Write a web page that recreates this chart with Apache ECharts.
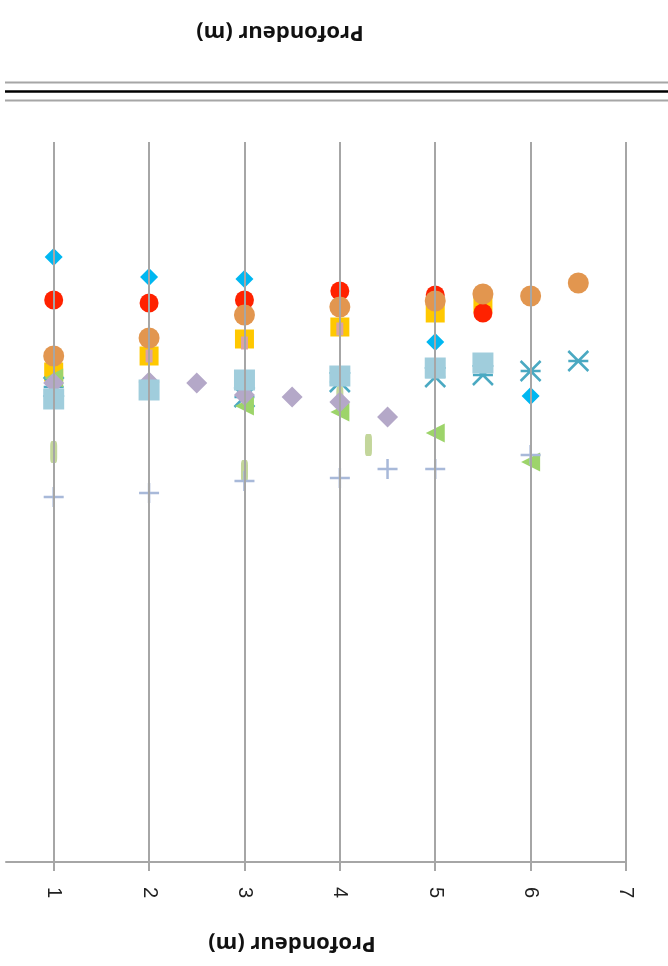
<!DOCTYPE html>
<html>
<head>
<meta charset="utf-8">
<script src="https://cdn.jsdelivr.net/npm/echarts@6/dist/echarts.min.js"></script>
<style>html,body{margin:0;padding:0;background:#fff;}#c{width:668px;height:966px;}</style>
</head>
<body>
<div id="c"></div>
<script>
// x-axis ticks (Profondeur, m)
var tickValues = [1, 2, 3, 4, 5, 6, 7];
// Series: [x, y] pairs (y in arbitrary units)
var cyanDiamond = [[1, 60.5], [2, 58.5], [3, 58.3], [5, 52.0], [6, 46.6]];
var yellowSquare = [[1, 49.0], [2, 50.6], [3, 52.3], [4, 53.5], [5, 54.9], [5.5, 55.9]];
var pinkBar = [[2, 50.6], [3, 51.9], [4, 53.3]];
var redCircle = [[1, 56.2], [2, 55.9], [3, 56.2], [4, 57.1], [5, 56.7], [5.5, 54.9]];
var orangeCircle = [[1, 50.6], [2, 52.4], [3, 54.7], [4, 55.5], [5, 56.1], [5.5, 56.8], [6, 56.6], [6.5, 57.9]];
var tealStar = [[1, 47.5], [3, 46.5], [4, 48.0], [5, 48.5], [5.5, 48.7], [6, 49.1], [6.5, 50.1]];
var lightGreenBar = [[1, 41.0], [3, 39.1], [4, 46.5], [4.3, 41.7]];
var greenTriangle = [[1, 48.4], [3, 45.6], [4, 45.0], [5, 42.9], [6, 40.0]];
var lavenderDiamond = [[1, 47.9], [2, 48.0], [2.5, 47.9], [3, 46.7], [3.5, 46.5], [4, 46.0], [4.5, 44.5]];
var lightBlueSquare = [[1, 46.3], [2, 47.2], [3, 48.2], [4, 48.6], [5, 49.4], [5.5, 49.9]];
var plusMark = [[1, 36.5], [2, 36.9], [3, 38.1], [4, 38.4], [4.5, 39.3], [5, 39.3], [6, 40.7]];

var axisTitle = 'Profondeur (m)';

var chart = echarts.init(document.getElementById('c'), null, {renderer: 'canvas'});

function sc(name, data, symbol, size, color, extra) {
  var s = {
    name: name, type: 'scatter', data: data, symbol: symbol, symbolSize: size,
    itemStyle: {color: color, opacity: 1}, silent: true, animation: false
  };
  if (extra) { for (var k in extra) s[k] = extra[k]; }
  return s;
}

var starPath = 'path://M0,0L20,20M20,0L0,20M0,10L20,10';
var plusPath = 'path://M8.75,0h2.5v8.75h8.75v2.5h-8.75v8.75h-2.5v-8.75h-8.75v-2.5h8.75z';

var option = {
  animation: false,
  backgroundColor: '#ffffff',
  grid: {left: 6, right: 42, top: 142, bottom: 104, containLabel: false},
  xAxis: {
    type: 'value', min: 0.5, max: 7,
    axisLine: {show: true, lineStyle: {color: '#a6a6a6', width: 2}},
    axisTick: {show: true, customValues: tickValues, length: 9, lineStyle: {color: '#a6a6a6', width: 2}},
    axisLabel: {show: true, customValues: tickValues, rotate: -90, margin: 25,
      fontFamily: 'Liberation Sans', fontSize: 20, color: '#222'},
    splitLine: {show: false}
  },
  yAxis: {type: 'value', min: 0, max: 72, show: false, splitLine: {show: false}},
  graphic: [
    {type: 'line', shape: {x1: 5, y1: 82.5, x2: 668, y2: 82.5}, style: {stroke: '#a6a6a6', lineWidth: 2}},
    {type: 'line', shape: {x1: 5, y1: 91.5, x2: 668, y2: 91.5}, style: {stroke: '#000', lineWidth: 2.5}},
    {type: 'line', shape: {x1: 5, y1: 100.5, x2: 668, y2: 100.5}, style: {stroke: '#a6a6a6', lineWidth: 2}},
    {type: 'text', x: 280, y: 32, rotation: Math.PI,
      style: {text: axisTitle, font: 'bold 22px "Open Sans"', fill: '#111', textAlign: 'center', textVerticalAlign: 'middle'}},
    {type: 'text', x: 292, y: 943, rotation: Math.PI,
      style: {text: axisTitle, font: 'bold 22px "Open Sans"', fill: '#111', textAlign: 'center', textVerticalAlign: 'middle'}}
  ],
  series: [
    {
      type: 'scatter', data: [], silent: true,
      markLine: {
        silent: true, symbol: 'none', animation: false,
        label: {show: false},
        lineStyle: {color: '#a6a6a6', width: 2, type: 'solid'},
        data: tickValues.map(function (v) { return {xAxis: v}; })
      }
    },
    sc('cyan', cyanDiamond, 'diamond', 18, '#00b7f1'),
    sc('yellow', yellowSquare, 'rect', 19, '#ffc800'),
    sc('pink', pinkBar, 'rect', [7, 13], '#d9a3a6'),
    sc('red', redCircle, 'circle', 19, '#ff2200'),
    sc('orange', orangeCircle, 'circle', 21, '#e2964f'),
    sc('teal', tealStar, starPath, 20, 'rgba(0,0,0,0)',
      {itemStyle: {color: 'rgba(0,0,0,0)', borderColor: '#4aa9c2', borderWidth: 2.5, opacity: 1}}),
    sc('lightgreen', lightGreenBar, 'roundRect', [7, 22], '#c3d69b'),
    sc('green', greenTriangle, 'triangle', 19, '#9dd46a', {symbolRotate: 90}),
    sc('lavender', lavenderDiamond, 'diamond', 21, '#b4a8c8'),
    sc('lightblue', lightBlueSquare, 'rect', 21, '#a0cddc'),
    sc('plus', plusMark, plusPath, 20, '#a8b9d9')
  ]
};
chart.setOption(option);
</script>
</body>
</html>
